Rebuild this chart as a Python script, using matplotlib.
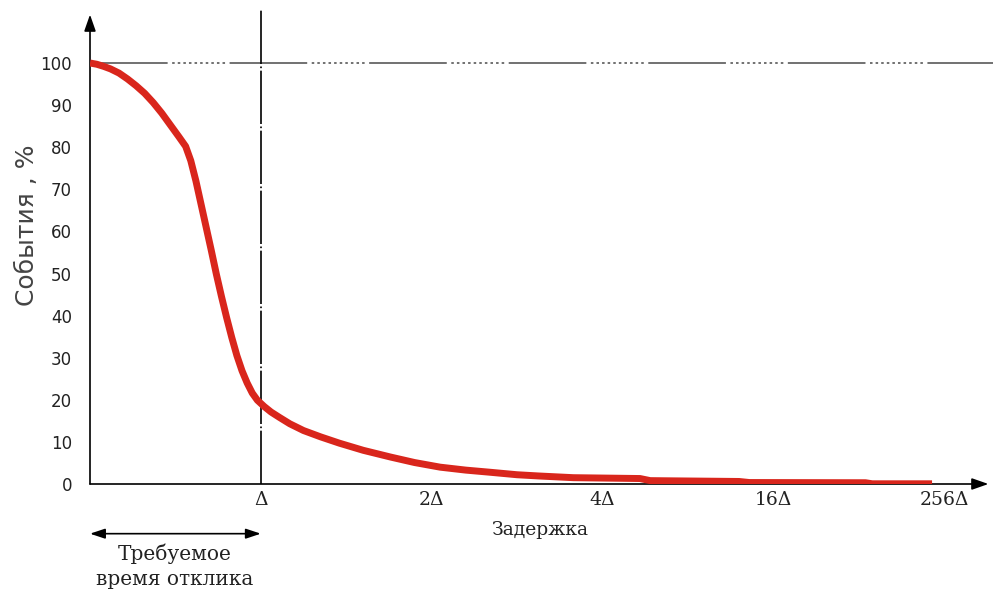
import matplotlib
matplotlib.use('Agg')
import matplotlib.pyplot as plt

# кривая: доля событий (%) в зависимости от задержки (позиция на оси x, 1 = Δ)
delay_pos = [0, 0.04, 0.08, 0.12, 0.17, 0.22, 0.27, 0.32, 0.37, 0.42, 0.47, 0.52,
             0.56, 0.59, 0.62, 0.65, 0.68, 0.71, 0.74, 0.77, 0.80, 0.83, 0.86,
             0.89, 0.92, 0.95, 0.98, 1.02, 1.06, 1.11, 1.17, 1.25, 1.35, 1.46,
             1.6, 1.76, 1.9, 2.05, 2.2, 2.34, 2.5, 2.63, 2.83, 3.22, 3.28,
             3.80, 3.86, 4.54, 4.58, 4.93]
events_pct = [100, 99.7, 99.2, 98.6, 97.6, 96.2, 94.6, 92.8, 90.6, 88.1, 85.3, 82.5,
              80.2, 76.8, 72, 66.5, 61, 55.5, 49.8, 44.5, 39.5, 34.8, 30.5,
              26.9, 24.0, 21.6, 19.9, 18.4, 17.1, 15.8, 14.3, 12.7, 11.2, 9.7,
              8.0, 6.4, 5.1, 4.0, 3.3, 2.8, 2.2, 1.9, 1.5, 1.3, 0.8,
              0.6, 0.35, 0.3, 0.05, 0.05]

x_ticks = [1, 2, 3, 4, 5]
x_labels = ['Δ', '2Δ', '4Δ', '16Δ', '256Δ']
y_ticks = list(range(0, 101, 10))

W, H = 993, 594
x0_px, y0_px = 90, 484
px_x = 170.8
px_y = 4.21
right_px, top_px = 993, 5

fig = plt.figure(figsize=(W / 100, H / 100), dpi=100)
ax = fig.add_axes([x0_px / W, (H - y0_px) / H, (right_px - x0_px) / W, (y0_px - top_px) / H])
ax.set_xlim(0, (right_px - x0_px) / px_x)
ax.set_ylim(0, (y0_px - top_px) / px_y)
for s in ax.spines.values():
    s.set_visible(False)

# линия 100 %
ax.axhline(100, color='#666666', lw=1.3,
           dashes=(43, 2.5, 1.4, 1.7, 1.4, 1.7, 1.4, 1.7, 1.4, 1.7, 1.4, 1.7, 1.4, 1.7,
                   1.4, 1.7, 1.4, 1.7, 1.4, 1.7, 1.4, 2.5))
# граница Δ
ax.plot([1, 1], [0, 112.6], color='black', lw=1.2, dashes=(32, 1.5, 1, 1.5))

# оси со стрелками
ax.annotate('', xy=(0, 111.5), xytext=(0, 0),
            arrowprops=dict(arrowstyle='-|>,head_length=1.0,head_width=0.35', color='black', lw=1.2,
                            shrinkA=0, shrinkB=0))
ax.annotate('', xy=(5.26, 0), xytext=(0, 0),
            arrowprops=dict(arrowstyle='-|>,head_length=1.0,head_width=0.35', color='black', lw=1.2,
                            shrinkA=0, shrinkB=0))

ax.plot(delay_pos, events_pct, color='#d9261c', lw=5, solid_capstyle='butt',
        solid_joinstyle='round', zorder=5)

ax.set_yticks(y_ticks)
ax.set_yticklabels([str(v) for v in y_ticks], fontsize=12, color='#222222', family='DejaVu Sans')
ax.set_xticks(x_ticks)
ax.set_xticklabels(x_labels, fontsize=13.5, color='#222222', family='DejaVu Serif')
ax.tick_params(axis='y', length=0, pad=13)
ax.tick_params(axis='x', length=0, pad=5)

ax.set_ylabel('События , %', fontsize=18, color='#444444', family='DejaVu Sans')
ax.yaxis.set_label_coords((39 - x0_px) / (right_px - x0_px), (y0_px - 225) / (y0_px - top_px))
fig.text(540 / W, 1 - 530 / H, 'Задержка', ha='center', va='center',
         fontsize=13.5, color='#222222', family='DejaVu Serif')

# требуемое время отклика
ax.annotate('', xy=(0, -11.8), xytext=(1, -11.8), annotation_clip=False,
            arrowprops=dict(arrowstyle='<|-|>,head_length=0.9,head_width=0.3', color='black', lw=1.2,
                            shrinkA=0, shrinkB=0))
fig.text(175 / W, 1 - 566 / H, 'Требуемое\nвремя отклика', ha='center', va='center',
         fontsize=14.5, color='#222222', family='DejaVu Serif', linespacing=1.4)

fig.savefig('out.png', dpi=100)
